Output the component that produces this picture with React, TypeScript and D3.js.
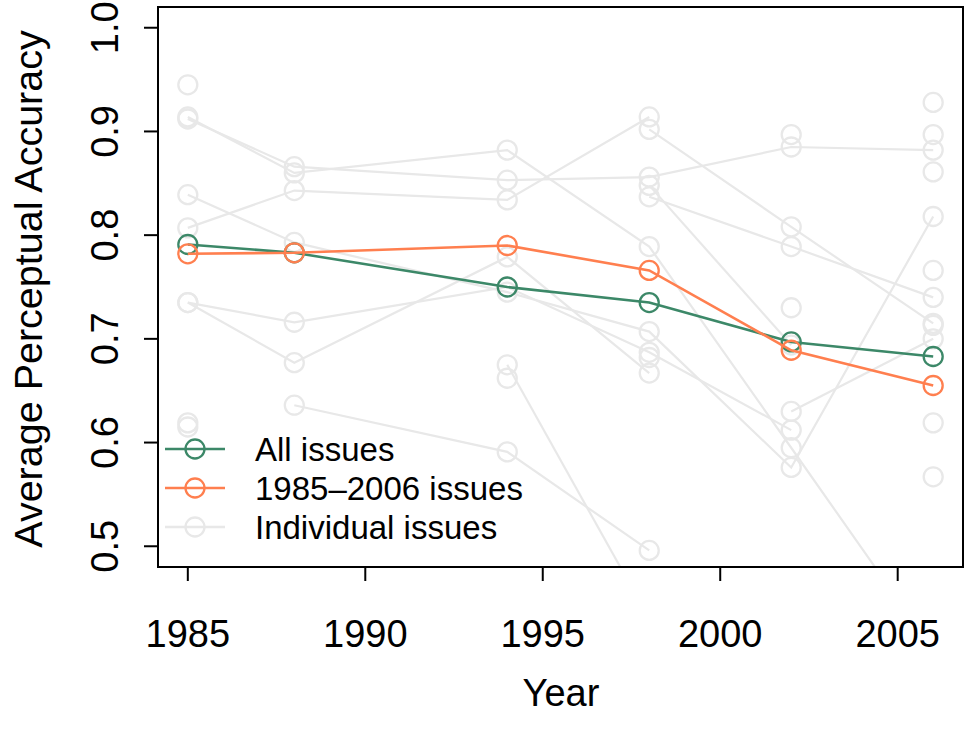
import * as d3 from 'd3';

const years = [1985, 1988, 1994, 1998, 2002, 2006];

// averages
const allIssues = [0.791, 0.783, 0.75, 0.735, 0.697, 0.683];
const issues1985to2006 = [0.782, 0.783, 0.79, 0.766, 0.689, 0.655];

// individual issues followed over time (null = not present that year)
const individual: (number | null)[][] = [
  [0.912, 0.866, 0.853, 0.856, 0.885, 0.882],
  [0.914, 0.86, 0.882, 0.789, 0.595, 0.4],
  [0.807, 0.843, 0.834, 0.914, null, null],
  [null, null, null, 0.902, 0.808, 0.715],
  [0.839, 0.793, 0.745, 0.707, 0.576, 0.818],
  [0.735, 0.716, 0.75, 0.687, 0.612, null],
  [0.735, 0.677, 0.779, 0.667, null, null],
  [null, 0.636, 0.591, 0.496, null, null],
  [null, null, 0.675, 0.43, null, null],
  [null, null, null, 0.848, 0.694, null],
  [null, null, null, 0.837, 0.789, 0.74],
  [null, null, null, null, 0.63, 0.7],
];

// individual issues seen in one year only
const singleYears = [1985, 1985, 1985, 1994, 1998, 2002, 2002, 2006, 2006, 2006, 2006, 2006, 2006, 2006];
const singleValues = [0.945, 0.619, 0.615, 0.662, 0.682, 0.897, 0.73, 0.928, 0.897, 0.861, 0.766, 0.713, 0.619, 0.567];

const xTicks = [1985, 1990, 1995, 2000, 2005];
const yTicks = [0.5, 0.6, 0.7, 0.8, 0.9, 1.0];

const legendLabels = ['All issues', '1985\u20132006 issues', 'Individual issues'];
const legendColors = ['#3c8868', '#ff7f4f', '#e8e8e8'];

const W = 964;
const H = 729;
const box = { left: 158, right: 963, top: 7, bottom: 567 };
const FONT = '"Liberation Sans", Arial, Helvetica, sans-serif';
const GREY = '#e8e8e8';

export default function App() {
  const x = d3.scaleLinear().domain([1984.16, 2006.84]).range([box.left, box.right]);
  const y = d3.scaleLinear().domain([0.48, 1.02]).range([box.bottom, box.top]);

  const line = d3
    .line<number | null>()
    .defined((d) => d != null)
    .x((_, i) => x(years[i]))
    .y((d) => y(d as number));

  const r = 9.5;

  const series = (vals: (number | null)[], color: string, sw: number, key: string) => (
    <g key={key}>
      <path d={line(vals) || ''} fill="none" stroke={color} strokeWidth={sw} />
      {vals.map((v, i) =>
        v == null || v < 0.48 ? null : (
          <circle key={i} cx={x(years[i])} cy={y(v)} r={r} fill="none" stroke={color} strokeWidth={2.3} />
        ),
      )}
    </g>
  );

  return (
    <svg width={W} height={H} style={{ position: 'absolute', left: 0, top: 0, background: '#fff' }} fontFamily={FONT}>
      <defs>
        <clipPath id="plot">
          <rect x={box.left} y={box.top} width={box.right - box.left} height={box.bottom - box.top} />
        </clipPath>
      </defs>

      <g clipPath="url(#plot)">
        {individual.map((s, k) => series(s, GREY, 2.2, 'g' + k))}
        {singleValues.map((v, i) => (
          <circle key={'s' + i} cx={x(singleYears[i])} cy={y(v)} r={r} fill="none" stroke={GREY} strokeWidth={2.3} />
        ))}
        {series(allIssues, '#3c8868', 2.6, 'all')}
        {series(issues1985to2006, '#ff7f4f', 2.6, 'sub')}
      </g>

      {/* box */}
      <rect
        x={box.left}
        y={box.top}
        width={box.right - box.left}
        height={box.bottom - box.top}
        fill="none"
        stroke="#000"
        strokeWidth={2}
      />

      {/* y axis */}
      {yTicks.map((t) => (
        <g key={t}>
          <line x1={box.left} x2={box.left - 14} y1={y(t)} y2={y(t)} stroke="#000" strokeWidth={2} />
          <text transform={`translate(118,${y(t)}) rotate(-90)`} textAnchor="middle" fontSize={38}>
            {t.toFixed(1)}
          </text>
        </g>
      ))}

      {/* x axis */}
      {xTicks.map((t) => (
        <g key={t}>
          <line x1={x(t)} x2={x(t)} y1={box.bottom} y2={box.bottom + 14} stroke="#000" strokeWidth={2} />
          <text x={x(t)} y={647} textAnchor="middle" fontSize={38}>
            {t}
          </text>
        </g>
      ))}

      <text x={561} y={706} textAnchor="middle" fontSize={38}>
        Year
      </text>
      <text transform="translate(42,289) rotate(-90)" textAnchor="middle" fontSize={39.5}>
        Average Perceptual Accuracy
      </text>

      {/* legend */}
      {legendLabels.map((label, i) => {
        const ly = 449 + i * 39;
        return (
          <g key={label}>
            <line x1={165} x2={225} y1={ly} y2={ly} stroke={legendColors[i]} strokeWidth={2.5} />
            <circle cx={195} cy={ly} r={r} fill="none" stroke={legendColors[i]} strokeWidth={2.3} />
            <text x={255} y={ly} dy="0.35em" fontSize={33}>
              {label}
            </text>
          </g>
        );
      })}
    </svg>
  );
}
